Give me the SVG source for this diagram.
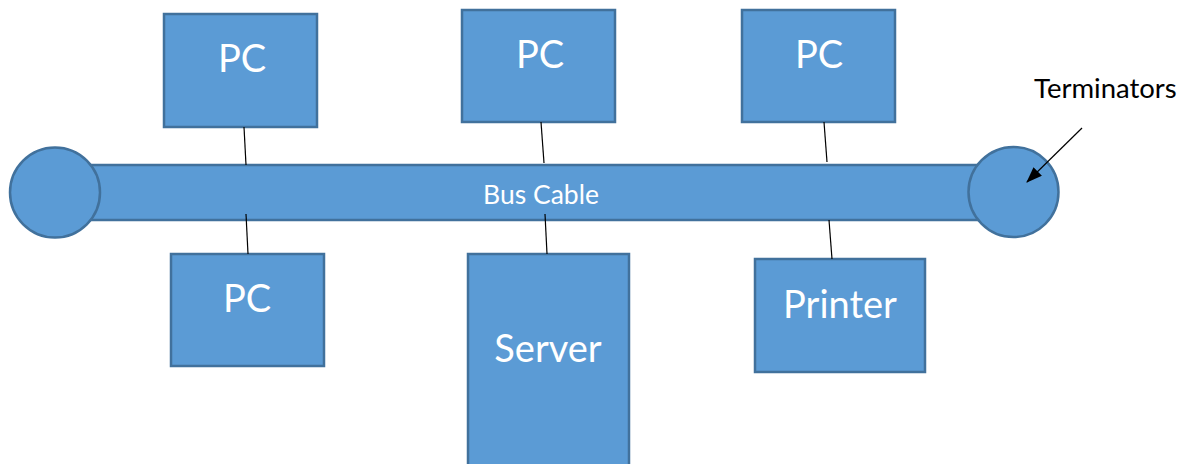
<svg xmlns="http://www.w3.org/2000/svg" width="1191" height="464" viewBox="0 0 1191 464">
  <style>
    .shape { fill: #5B9BD5; stroke: #41719C; stroke-width: 2.5; }
    .label { fill: #FFFFFF; font-family: Lato, "Noto Sans", sans-serif; text-anchor: middle; }
    .big { font-size: 38px; }
    .bus { font-size: 26.5px; }
    .link { stroke: #000000; stroke-width: 1.2; fill: none; }
    .note { fill: #000000; font-family: Lato, "Noto Sans", sans-serif; font-size: 27.5px; }
  </style>
  <defs>
    <marker id="arrowHead" viewBox="0 0 16 12" refX="15" refY="6" markerWidth="16" markerHeight="12" markerUnits="userSpaceOnUse" orient="auto">
      <path d="M0,0 L16,6 L0,12 Z" fill="#000000"/>
    </marker>
  </defs>

  <!-- Bus cable with terminators at both ends -->
  <g id="bus-cable">
    <rect class="shape" x="55" y="165" width="958" height="55"/>
    <text class="label bus" x="541" y="204">Bus Cable</text>
  </g>
  <g id="terminator-left">
    <circle class="shape" cx="55" cy="192.5" r="45"/>
  </g>
  <g id="terminator-right">
    <circle class="shape" cx="1013.5" cy="192" r="45"/>
  </g>

  <!-- Devices attached above the bus -->
  <g id="pc-top-left">
    <rect class="shape" x="164" y="14" width="153" height="113"/>
    <text class="label big" x="242" y="72">PC</text>
  </g>
  <g id="pc-top-middle">
    <rect class="shape" x="462" y="10" width="153" height="112"/>
    <text class="label big" x="540" y="68">PC</text>
  </g>
  <g id="pc-top-right">
    <rect class="shape" x="742" y="10" width="153" height="112"/>
    <text class="label big" x="819" y="68">PC</text>
  </g>

  <!-- Devices attached below the bus -->
  <g id="pc-bottom-left">
    <rect class="shape" x="171" y="254" width="153" height="112"/>
    <text class="label big" x="247" y="312">PC</text>
  </g>
  <g id="server">
    <rect class="shape" x="468" y="254" width="161" height="216"/>
    <text class="label big" x="548" y="362">Server</text>
  </g>
  <g id="printer">
    <rect class="shape" x="755" y="259" width="170" height="113"/>
    <text class="label big" x="840" y="318">Printer</text>
  </g>

  <!-- Drop cables and the terminator callout -->
  <g id="connectors">
    <line class="link" x1="244" y1="127" x2="246" y2="165"/>
    <line class="link" x1="246" y1="214" x2="248" y2="254"/>
    <line class="link" x1="541" y1="122" x2="544" y2="163"/>
    <line class="link" x1="545" y1="214" x2="547" y2="254"/>
    <line class="link" x1="824" y1="122" x2="827" y2="162"/>
    <line class="link" x1="829" y1="220" x2="832" y2="259"/>
    <line class="link" x1="1082" y1="128" x2="1027" y2="182" marker-end="url(#arrowHead)" stroke-width="1.5"/>
  </g>

  <g id="terminators-label">
    <text class="note" x="1034" y="98">Terminators</text>
  </g>
</svg>
